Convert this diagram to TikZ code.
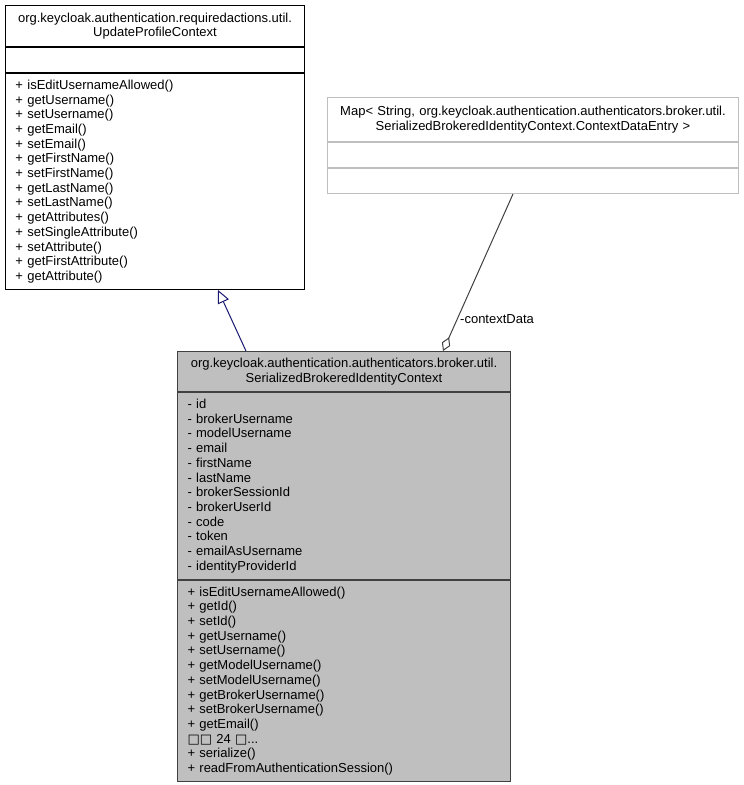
\documentclass[tikz,border=0pt]{standalone}
\usepackage{fontspec}
\setmainfont{Liberation Sans}
\newfontfamily\symfont{DejaVu Sans}
\usetikzlibrary{arrows.meta}
\definecolor{umlgrey}{HTML}{BFBFBF}
\definecolor{umledge}{HTML}{404040}
\definecolor{umlnavy}{HTML}{191970}
\tikzset{
  part/.style={rectangle, anchor=north west, inner xsep=10pt, inner ysep=0pt, line width=1pt},
  partlist/.style={part, align=left},
  parthead/.style={part, align=center},
}
\begin{document}
\begin{tikzpicture}[x=1pt, y=-1pt, font=\fontsize{13}{14.7}\selectfont]
		\useasboundingbox (0,0) rectangle (744,785);
		% UpdateProfileContext:
		\node[parthead, draw=black, minimum width=299pt, minimum height=41pt, text width=279pt] (upcHead) at (5,5){org.keycloak.authentication.requiredactions.util.\\UpdateProfileContext};
		\node[part, draw=black, minimum width=299pt, minimum height=25pt] (upcAttr) at (upcHead.south west){};
		\node[partlist, draw=black, minimum width=299pt, minimum height=216pt, text width=279pt] (upcOps) at (upcAttr.south west){+ isEditUsernameAllowed()\\+ getUsername()\\+ setUsername()\\+ getEmail()\\+ setEmail()\\+ getFirstName()\\+ setFirstName()\\+ getLastName()\\+ setLastName()\\+ getAttributes()\\+ setSingleAttribute()\\+ setAttribute()\\+ getFirstAttribute()\\+ getAttribute()};
		% Map< String, ContextDataEntry >:
		\node[parthead, draw=umlgrey, minimum width=411pt, minimum height=44pt, text width=391pt] (mapHead) at (327,97){Map< String, org.keycloak.authentication.authenticators.broker.util.\\SerializedBrokeredIdentityContext.ContextDataEntry >};
		\node[part, draw=umlgrey, minimum width=411pt, minimum height=25pt] (mapAttr) at (mapHead.south west){};
		\node[part, draw=umlgrey, minimum width=411pt, minimum height=25pt] (mapOps) at (mapAttr.south west){};
		% SerializedBrokeredIdentityContext:
		\node[parthead, draw=umledge, fill=umlgrey, minimum width=333pt, minimum height=40pt, text width=313pt] (serHead) at (177,351){org.keycloak.authentication.authenticators.broker.util.\\SerializedBrokeredIdentityContext};
		\node[partlist, draw=umledge, fill=umlgrey, minimum width=333pt, minimum height=187pt, text width=313pt] (serAttr) at (serHead.south west){- id\\- brokerUsername\\- modelUsername\\- email\\- firstName\\- lastName\\- brokerSessionId\\- brokerUserId\\- code\\- token\\- emailAsUsername\\- identityProviderId};
		\node[partlist, draw=umledge, fill=umlgrey, minimum width=333pt, minimum height=201pt, text width=313pt] (serOps) at (serAttr.south west){+ isEditUsernameAllowed()\\+ getId()\\+ setId()\\+ getUsername()\\+ setUsername()\\+ getModelUsername()\\+ setModelUsername()\\+ getBrokerUsername()\\+ setBrokerUsername()\\+ getEmail()\\{\symfont □□} 24 {\symfont □}...\\+ serialize()\\+ readFromAuthenticationSession()};
		% Connectors:
		\draw[umlnavy, line width=1pt, -{Triangle[open, fill=white, length=13pt, width=12pt]}] ([xshift=69pt]serHead.north west) -- ([xshift=213pt]upcOps.south west);
		\draw[umledge, line width=1pt, {Diamond[open, fill=white, length=15pt, width=9pt]}-] ([xshift=266pt]serHead.north west) -- ([xshift=186pt]mapOps.south west);
		\node[anchor=west, inner sep=1pt] (ctxLabel) at (459,319){-contextData};
	\end{tikzpicture}
\end{document}
